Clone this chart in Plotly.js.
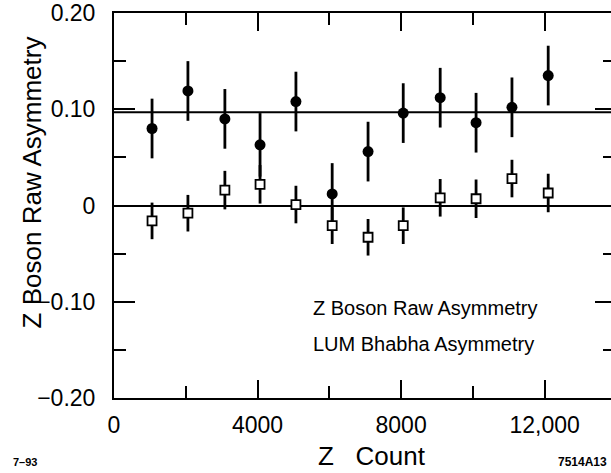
<!DOCTYPE html>
<html>
<head>
<meta charset="utf-8">
<script src="https://cdn.plot.ly/plotly-3.0.1.min.js"></script>
<style>
html,body{margin:0;padding:0;background:#fff;overflow:hidden;}
#chart{width:611px;height:473px;}
</style>
</head>
<body>
<div id="chart"></div>
<script>
// Data
const zCount = [1060, 2060, 3090, 4070, 5070, 6080, 7080, 8060, 9090, 10090, 11090, 12100];
const zBosonAsym = [0.080, 0.119, 0.090, 0.063, 0.108, 0.012, 0.056, 0.096, 0.112, 0.086, 0.102, 0.135];
const zBosonErr  = [0.031, 0.031, 0.031, 0.033, 0.031, 0.032, 0.031, 0.031, 0.031, 0.031, 0.031, 0.031];
const lumAsym = [-0.016, -0.008, 0.016, 0.022, 0.001, -0.021, -0.033, -0.021, 0.008, 0.007, 0.028, 0.013];
const lumErr  = [0.019, 0.019, 0.020, 0.020, 0.0195, 0.019, 0.019, 0.019, 0.0195, 0.020, 0.0195, 0.020];
const zBosonMean = 0.097;
const xTickVals = [0, 4000, 8000, 12000];
const xTickText = ["0", "4000", "8000", "12,000"];
const yTickVals = [-0.2, -0.1, 0, 0.1, 0.2];
const yTickText = ["\u22120.20", "\u22120.10", "0", "0.10", "0.20"];

const FONT = "Liberation Sans, Arial, Helvetica, sans-serif";
const xRange = [0, 13850];
const yRange = [-0.2, 0.2];

const traces = [
  {
    x: zCount, y: zBosonAsym, type: "scatter", mode: "markers",
    name: "Z Boson Raw Asymmetry",
    marker: {symbol: "circle", size: 11, color: "black"},
    error_y: {type: "data", array: zBosonErr, visible: true, width: 0, thickness: 2.8, color: "black"}
  },
  {
    x: zCount, y: lumAsym, type: "scatter", mode: "markers",
    name: "LUM Bhabha Asymmetry",
    marker: {symbol: "square", size: 9, color: "white", line: {color: "black", width: 1.8}},
    error_y: {type: "data", array: lumErr, visible: true, width: 0, thickness: 2.8, color: "black"}
  },
  {x: [], y: [], yaxis: "y2", type: "scatter", mode: "markers", showlegend: false, hoverinfo: "skip"}
];

const layout = {
  width: 611, height: 473,
  margin: {l: 114, r: 0, t: 13, b: 75, pad: 0},
  paper_bgcolor: "white", plot_bgcolor: "white",
  showlegend: false,
  font: {family: FONT, color: "black", size: 22},
  xaxis: {
    range: xRange, showgrid: false, zeroline: false,
    showline: true, linecolor: "black", linewidth: 2, mirror: "ticks",
    tickmode: "array", tickvals: xTickVals, ticktext: xTickText,
    ticks: "inside", ticklen: 18, tickwidth: 2, tickcolor: "black",
    ticklabelstandoff: 5,
    tickfont: {family: FONT, size: 23, color: "black"},
    minor: {dtick: 2000, tick0: 0, ticks: "inside", ticklen: 12, tickwidth: 2, tickcolor: "black", showgrid: false}
  },
  yaxis: {
    range: yRange, showgrid: false,
    zeroline: true, zerolinecolor: "black", zerolinewidth: 2,
    showline: true, linecolor: "black", linewidth: 2,
    tickmode: "array", tickvals: yTickVals, ticktext: yTickText,
    ticks: "inside", ticklen: 21, tickwidth: 2, tickcolor: "black",
    ticklabelstandoff: 12,
    tickfont: {family: FONT, size: 23, color: "black"},
    minor: {dtick: 0.05, tick0: 0, ticks: "inside", ticklen: 12, tickwidth: 2, tickcolor: "black", showgrid: false}
  },
  yaxis2: {
    range: yRange, overlaying: "y", side: "right", showgrid: false, zeroline: false,
    showline: false, showticklabels: false,
    tickmode: "array", tickvals: yTickVals,
    ticks: "inside", ticklen: 16, tickwidth: 2, tickcolor: "black",
    minor: {dtick: 0.05, tick0: 0, ticks: "inside", ticklen: 8, tickwidth: 2, tickcolor: "black", showgrid: false}
  },
  shapes: [
    {type: "line", xref: "paper", x0: 0, x1: 1, yref: "y", y0: zBosonMean, y1: zBosonMean,
     line: {color: "black", width: 2}}
  ],
  annotations: [
    {text: "Z Boson Raw Asymmetry", xref: "paper", yref: "paper", x: -0.165, y: 0.56, xanchor: "center", yanchor: "middle",
     textangle: -90, showarrow: false, font: {family: FONT, size: 26, color: "black"}},
    {text: "Z\u00a0\u00a0\u00a0Count", xref: "paper", yref: "paper", x: 0.52, y: -0.15, xanchor: "center", yanchor: "middle",
     showarrow: false, font: {family: FONT, size: 26, color: "black"}},
    {text: "Z Boson Raw Asymmetry", xref: "x", yref: "y", x: 5500, y: -0.107, xanchor: "left", yanchor: "middle",
     showarrow: false, font: {family: FONT, size: 20, color: "black"}},
    {text: "LUM Bhabha Asymmetry", xref: "x", yref: "y", x: 5500, y: -0.144, xanchor: "left", yanchor: "middle",
     showarrow: false, font: {family: FONT, size: 20, color: "black"}},
    {text: "<b>7\u201393</b>", xref: "paper", yref: "paper", x: -0.208, y: -0.165, xanchor: "left", yanchor: "middle",
     showarrow: false, font: {family: FONT, size: 11, color: "black"}},
    {text: "<b>7514A13</b>", xref: "paper", yref: "paper", x: 0.995, y: -0.165, xanchor: "right", yanchor: "middle",
     showarrow: false, font: {family: FONT, size: 12, color: "black"}}
  ]
};

Plotly.newPlot("chart", traces, layout, {displayModeBar: false, staticPlot: true});
</script>
</body>
</html>
